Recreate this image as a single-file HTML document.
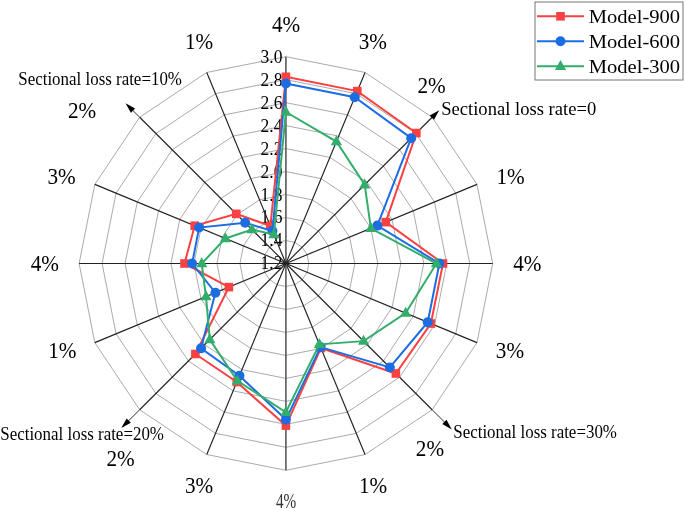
<!DOCTYPE html>
<html><head><meta charset="utf-8"><style>
html,body{margin:0;padding:0;background:#fff;}
#c{position:relative;width:685px;height:510px;overflow:hidden;background:#fff;will-change:transform;}
svg text{font-family:"Liberation Serif",serif;}
</style></head><body><div id="c">
<svg width="685" height="510" viewBox="0 0 685 510" style="position:absolute;left:0;top:0">
<polygon points="285.90,240.52 294.69,242.27 302.15,247.25 307.13,254.71 308.88,263.50 307.13,272.29 302.15,279.75 294.69,284.73 285.90,286.48 277.11,284.73 269.65,279.75 264.67,272.29 262.92,263.50 264.67,254.71 269.65,247.25 277.11,242.27" fill="none" stroke="#a0a0a0" stroke-width="0.9"/>
<polygon points="285.90,217.54 303.49,221.04 318.40,231.00 328.36,245.91 331.86,263.50 328.36,281.09 318.40,296.00 303.49,305.96 285.90,309.46 268.31,305.96 253.40,296.00 243.44,281.09 239.94,263.50 243.44,245.91 253.40,231.00 268.31,221.04" fill="none" stroke="#a0a0a0" stroke-width="0.9"/>
<polygon points="285.90,194.57 312.28,199.81 334.64,214.76 349.59,237.12 354.83,263.50 349.59,289.88 334.64,312.24 312.28,327.19 285.90,332.43 259.52,327.19 237.16,312.24 222.21,289.88 216.97,263.50 222.21,237.12 237.16,214.76 259.52,199.81" fill="none" stroke="#a0a0a0" stroke-width="0.9"/>
<polygon points="285.90,171.59 321.07,178.59 350.89,198.51 370.81,228.33 377.81,263.50 370.81,298.67 350.89,328.49 321.07,348.41 285.90,355.41 250.73,348.41 220.91,328.49 200.99,298.67 193.99,263.50 200.99,228.33 220.91,198.51 250.73,178.59" fill="none" stroke="#a0a0a0" stroke-width="0.9"/>
<polygon points="285.90,148.61 329.87,157.36 367.14,182.26 392.04,219.53 400.79,263.50 392.04,307.47 367.14,344.74 329.87,369.64 285.90,378.39 241.93,369.64 204.66,344.74 179.76,307.47 171.01,263.50 179.76,219.53 204.66,182.26 241.93,157.36" fill="none" stroke="#a0a0a0" stroke-width="0.9"/>
<polygon points="285.90,125.63 338.66,136.13 383.39,166.01 413.27,210.74 423.77,263.50 413.27,316.26 383.39,360.99 338.66,390.87 285.90,401.37 233.14,390.87 188.41,360.99 158.53,316.26 148.03,263.50 158.53,210.74 188.41,166.01 233.14,136.13" fill="none" stroke="#a0a0a0" stroke-width="0.9"/>
<polygon points="285.90,102.66 347.45,114.90 399.63,149.77 434.50,201.95 446.74,263.50 434.50,325.05 399.63,377.23 347.45,412.10 285.90,424.34 224.35,412.10 172.17,377.23 137.30,325.05 125.06,263.50 137.30,201.95 172.17,149.77 224.35,114.90" fill="none" stroke="#a0a0a0" stroke-width="0.9"/>
<polygon points="285.90,79.68 356.25,93.67 415.88,133.52 455.73,193.15 469.72,263.50 455.73,333.85 415.88,393.48 356.25,433.33 285.90,447.32 215.55,433.33 155.92,393.48 116.07,333.85 102.08,263.50 116.07,193.15 155.92,133.52 215.55,93.67" fill="none" stroke="#a0a0a0" stroke-width="0.9"/>
<polygon points="285.90,56.70 365.04,72.44 432.13,117.27 476.96,184.36 492.70,263.50 476.96,342.64 432.13,409.73 365.04,454.56 285.90,470.30 206.76,454.56 139.67,409.73 94.84,342.64 79.10,263.50 94.84,184.36 139.67,117.27 206.76,72.44" fill="none" stroke="#a0a0a0" stroke-width="0.9"/>
<text x="0" y="0" transform="translate(282.40,269.45) scale(1.000,1.030)" font-size="17.5" text-anchor="end" fill="#000">1.2</text>
<text x="0" y="0" transform="translate(282.40,246.47) scale(1.000,1.030)" font-size="17.5" text-anchor="end" fill="#000">1.4</text>
<text x="0" y="0" transform="translate(282.40,223.49) scale(1.000,1.030)" font-size="17.5" text-anchor="end" fill="#000">1.6</text>
<text x="0" y="0" transform="translate(282.40,200.52) scale(1.000,1.030)" font-size="17.5" text-anchor="end" fill="#000">1.8</text>
<text x="0" y="0" transform="translate(282.40,177.54) scale(1.000,1.030)" font-size="17.5" text-anchor="end" fill="#000">2.0</text>
<text x="0" y="0" transform="translate(282.40,154.56) scale(1.000,1.030)" font-size="17.5" text-anchor="end" fill="#000">2.2</text>
<text x="0" y="0" transform="translate(282.40,131.58) scale(1.000,1.030)" font-size="17.5" text-anchor="end" fill="#000">2.4</text>
<text x="0" y="0" transform="translate(282.40,108.61) scale(1.000,1.030)" font-size="17.5" text-anchor="end" fill="#000">2.6</text>
<text x="0" y="0" transform="translate(282.40,85.63) scale(1.000,1.030)" font-size="17.5" text-anchor="end" fill="#000">2.8</text>
<text x="0" y="0" transform="translate(282.40,62.65) scale(1.000,1.030)" font-size="17.5" text-anchor="end" fill="#000">3.0</text>
<line x1="285.90" y1="263.50" x2="285.90" y2="56.70" stroke="#5a5a5a" stroke-width="1.6"/>
<line x1="285.90" y1="263.50" x2="365.04" y2="72.44" stroke="#222" stroke-width="1.15"/>
<line x1="285.90" y1="263.50" x2="432.13" y2="117.27" stroke="#222" stroke-width="1.15"/>
<line x1="432.13" y1="117.27" x2="432.53" y2="116.87" stroke="#222" stroke-width="0.95"/>
<polygon points="439.25,110.15 433.95,119.70 429.70,115.45" fill="#000"/>
<line x1="285.90" y1="263.50" x2="476.96" y2="184.36" stroke="#222" stroke-width="1.15"/>
<line x1="285.90" y1="263.50" x2="492.70" y2="263.50" stroke="#222" stroke-width="1.15"/>
<line x1="285.90" y1="263.50" x2="476.96" y2="342.64" stroke="#222" stroke-width="1.15"/>
<line x1="285.90" y1="263.50" x2="432.13" y2="409.73" stroke="#222" stroke-width="1.15"/>
<line x1="432.13" y1="409.73" x2="445.08" y2="422.68" stroke="#222" stroke-width="0.95"/>
<polygon points="451.80,429.40 442.25,424.10 446.50,419.85" fill="#000"/>
<line x1="285.90" y1="263.50" x2="365.04" y2="454.56" stroke="#222" stroke-width="1.15"/>
<line x1="285.90" y1="263.50" x2="285.90" y2="470.30" stroke="#5a5a5a" stroke-width="1.6"/>
<line x1="285.90" y1="263.50" x2="206.76" y2="454.56" stroke="#222" stroke-width="1.15"/>
<line x1="285.90" y1="263.50" x2="139.67" y2="409.73" stroke="#222" stroke-width="1.15"/>
<line x1="139.67" y1="409.73" x2="128.02" y2="421.38" stroke="#222" stroke-width="0.95"/>
<polygon points="121.30,428.10 126.60,418.55 130.85,422.80" fill="#000"/>
<line x1="285.90" y1="263.50" x2="94.84" y2="342.64" stroke="#222" stroke-width="1.15"/>
<line x1="285.90" y1="263.50" x2="79.10" y2="263.50" stroke="#222" stroke-width="1.15"/>
<line x1="285.90" y1="263.50" x2="94.84" y2="184.36" stroke="#222" stroke-width="1.15"/>
<line x1="285.90" y1="263.50" x2="139.67" y2="117.27" stroke="#222" stroke-width="1.15"/>
<line x1="139.67" y1="117.27" x2="132.27" y2="109.87" stroke="#222" stroke-width="0.95"/>
<polygon points="125.55,103.15 135.10,108.45 130.85,112.70" fill="#000"/>
<line x1="285.90" y1="263.50" x2="206.76" y2="72.44" stroke="#222" stroke-width="1.15"/>
<polygon points="285.90,76.80 357.31,91.10 416.36,133.04 385.77,222.13 443.00,263.50 430.86,323.54 395.86,373.46 320.92,348.03 285.90,425.60 236.80,382.03 195.39,354.01 228.90,287.11 184.50,263.50 194.71,225.73 236.26,213.86 270.36,225.99" fill="none" stroke="#f84141" stroke-width="2" stroke-linejoin="miter"/>
<rect x="281.60" y="72.50" width="8.6" height="8.6" fill="#f84141"/>
<rect x="353.01" y="86.80" width="8.6" height="8.6" fill="#f84141"/>
<rect x="412.06" y="128.74" width="8.6" height="8.6" fill="#f84141"/>
<rect x="381.47" y="217.83" width="8.6" height="8.6" fill="#f84141"/>
<rect x="438.70" y="259.20" width="8.6" height="8.6" fill="#f84141"/>
<rect x="426.56" y="319.24" width="8.6" height="8.6" fill="#f84141"/>
<rect x="391.56" y="369.16" width="8.6" height="8.6" fill="#f84141"/>
<rect x="316.62" y="343.73" width="8.6" height="8.6" fill="#f84141"/>
<rect x="281.60" y="421.30" width="8.6" height="8.6" fill="#f84141"/>
<rect x="232.50" y="377.73" width="8.6" height="8.6" fill="#f84141"/>
<rect x="191.09" y="349.71" width="8.6" height="8.6" fill="#f84141"/>
<rect x="224.60" y="282.81" width="8.6" height="8.6" fill="#f84141"/>
<rect x="180.20" y="259.20" width="8.6" height="8.6" fill="#f84141"/>
<rect x="190.41" y="221.43" width="8.6" height="8.6" fill="#f84141"/>
<rect x="231.96" y="209.56" width="8.6" height="8.6" fill="#f84141"/>
<rect x="266.06" y="221.69" width="8.6" height="8.6" fill="#f84141"/>
<polygon points="285.90,83.50 354.74,97.29 411.20,138.20 377.36,225.61 439.40,263.50 427.72,322.24 389.84,367.44 320.53,347.11 285.90,419.60 239.44,375.66 201.05,348.35 215.41,292.70 192.10,263.50 199.15,227.57 245.17,222.77 272.43,230.98" fill="none" stroke="#1d6de2" stroke-width="2" stroke-linejoin="miter"/>
<circle cx="285.90" cy="83.50" r="5" fill="#1d6de2"/>
<circle cx="354.74" cy="97.29" r="5" fill="#1d6de2"/>
<circle cx="411.20" cy="138.20" r="5" fill="#1d6de2"/>
<circle cx="377.36" cy="225.61" r="5" fill="#1d6de2"/>
<circle cx="439.40" cy="263.50" r="5" fill="#1d6de2"/>
<circle cx="427.72" cy="322.24" r="5" fill="#1d6de2"/>
<circle cx="389.84" cy="367.44" r="5" fill="#1d6de2"/>
<circle cx="320.53" cy="347.11" r="5" fill="#1d6de2"/>
<circle cx="285.90" cy="419.60" r="5" fill="#1d6de2"/>
<circle cx="239.44" cy="375.66" r="5" fill="#1d6de2"/>
<circle cx="201.05" cy="348.35" r="5" fill="#1d6de2"/>
<circle cx="215.41" cy="292.70" r="5" fill="#1d6de2"/>
<circle cx="192.10" cy="263.50" r="5" fill="#1d6de2"/>
<circle cx="199.15" cy="227.57" r="5" fill="#1d6de2"/>
<circle cx="245.17" cy="222.77" r="5" fill="#1d6de2"/>
<circle cx="272.43" cy="230.98" r="5" fill="#1d6de2"/>
<polygon points="285.90,112.00 336.41,141.55 364.67,184.73 370.90,228.29 436.50,263.50 405.63,313.10 363.54,341.14 319.38,344.34 285.90,412.30 237.34,380.74 209.82,339.58 205.98,296.60 201.70,263.50 225.39,238.43 251.96,229.56 273.88,234.49" fill="none" stroke="#33ad6b" stroke-width="2" stroke-linejoin="miter"/>
<polygon points="285.90,105.70 291.50,115.70 280.30,115.70" fill="#33ad6b"/>
<polygon points="336.41,135.25 342.01,145.25 330.81,145.25" fill="#33ad6b"/>
<polygon points="364.67,178.43 370.27,188.43 359.07,188.43" fill="#33ad6b"/>
<polygon points="370.90,221.99 376.50,231.99 365.30,231.99" fill="#33ad6b"/>
<polygon points="436.50,257.20 442.10,267.20 430.90,267.20" fill="#33ad6b"/>
<polygon points="405.63,306.80 411.23,316.80 400.03,316.80" fill="#33ad6b"/>
<polygon points="363.54,334.84 369.14,344.84 357.94,344.84" fill="#33ad6b"/>
<polygon points="319.38,338.04 324.98,348.04 313.78,348.04" fill="#33ad6b"/>
<polygon points="285.90,406.00 291.50,416.00 280.30,416.00" fill="#33ad6b"/>
<polygon points="237.34,374.44 242.94,384.44 231.74,384.44" fill="#33ad6b"/>
<polygon points="209.82,333.28 215.42,343.28 204.22,343.28" fill="#33ad6b"/>
<polygon points="205.98,290.30 211.58,300.30 200.38,300.30" fill="#33ad6b"/>
<polygon points="201.70,257.20 207.30,267.20 196.10,267.20" fill="#33ad6b"/>
<polygon points="225.39,232.13 230.99,242.13 219.79,242.13" fill="#33ad6b"/>
<polygon points="251.96,223.26 257.56,233.26 246.36,233.26" fill="#33ad6b"/>
<polygon points="273.88,228.19 279.48,238.19 268.28,238.19" fill="#33ad6b"/>
<rect x="535" y="2" width="148" height="78" fill="#fff" stroke="#777" stroke-width="1"/>
<line x1="537" y1="16.3" x2="584" y2="16.3" stroke="#f84141" stroke-width="2"/>
<rect x="556.20" y="12.00" width="8.6" height="8.6" fill="#f84141"/>
<text x="0" y="0" transform="translate(588.78,22.90) scale(1.050,1.000)" font-size="19.6" text-anchor="start" fill="#000">Model-900</text>
<line x1="537" y1="41.2" x2="584" y2="41.2" stroke="#1d6de2" stroke-width="2"/>
<circle cx="560.50" cy="41.20" r="5" fill="#1d6de2"/>
<text x="0" y="0" transform="translate(588.78,47.80) scale(1.050,1.000)" font-size="19.6" text-anchor="start" fill="#000">Model-600</text>
<line x1="537" y1="66.2" x2="584" y2="66.2" stroke="#33ad6b" stroke-width="2"/>
<polygon points="560.50,59.90 566.10,69.90 554.90,69.90" fill="#33ad6b"/>
<text x="0" y="0" transform="translate(588.78,72.80) scale(1.050,1.000)" font-size="19.6" text-anchor="start" fill="#000">Model-300</text>
<text x="0" y="0" transform="translate(286.09,31.80) scale(1.000,1.040)" font-size="21.2" text-anchor="middle" fill="#000">4%</text>
<text x="0" y="0" transform="translate(372.87,49.40) scale(1.000,1.040)" font-size="21.2" text-anchor="middle" fill="#000">3%</text>
<text x="0" y="0" transform="translate(431.62,92.80) scale(1.000,1.040)" font-size="21.2" text-anchor="middle" fill="#000">2%</text>
<text x="0" y="0" transform="translate(510.50,184.10) scale(1.000,1.040)" font-size="21.2" text-anchor="middle" fill="#000">1%</text>
<text x="0" y="0" transform="translate(527.39,270.70) scale(1.000,1.040)" font-size="21.2" text-anchor="middle" fill="#000">4%</text>
<text x="0" y="0" transform="translate(509.92,357.80) scale(1.000,1.040)" font-size="21.2" text-anchor="middle" fill="#000">3%</text>
<text x="0" y="0" transform="translate(429.97,455.70) scale(1.000,1.040)" font-size="21.2" text-anchor="middle" fill="#000">2%</text>
<text x="0" y="0" transform="translate(373.00,492.90) scale(1.000,1.040)" font-size="21.2" text-anchor="middle" fill="#000">1%</text>
<text x="0" y="0" transform="translate(199.07,492.90) scale(1.000,1.040)" font-size="21.2" text-anchor="middle" fill="#000">3%</text>
<text x="0" y="0" transform="translate(120.62,466.10) scale(1.000,1.040)" font-size="21.2" text-anchor="middle" fill="#000">2%</text>
<text x="0" y="0" transform="translate(62.40,357.80) scale(1.000,1.040)" font-size="21.2" text-anchor="middle" fill="#000">1%</text>
<text x="0" y="0" transform="translate(44.89,271.10) scale(1.000,1.040)" font-size="21.2" text-anchor="middle" fill="#000">4%</text>
<text x="0" y="0" transform="translate(61.62,184.00) scale(1.000,1.040)" font-size="21.2" text-anchor="middle" fill="#000">3%</text>
<text x="0" y="0" transform="translate(82.12,118.30) scale(1.000,1.040)" font-size="21.2" text-anchor="middle" fill="#000">2%</text>
<text x="0" y="0" transform="translate(199.15,49.40) scale(1.000,1.040)" font-size="21.2" text-anchor="middle" fill="#000">1%</text>
<text x="0" y="0" transform="translate(286.05,507.50) scale(0.720,0.970)" font-size="21.2" text-anchor="middle" fill="#333">4%</text>
<text x="0" y="0" transform="translate(441.19,114.50) scale(0.990,1.000)" font-size="18.8" text-anchor="start" fill="#000">Sectional loss rate=0</text>
<text x="0" y="0" transform="translate(18.30,84.50) scale(0.962,1.070)" font-size="17.6" text-anchor="start" fill="#000">Sectional loss rate=10%</text>
<text x="0" y="0" transform="translate(0.30,439.60) scale(0.962,1.070)" font-size="17.6" text-anchor="start" fill="#000">Sectional loss rate=20%</text>
<text x="0" y="0" transform="translate(453.30,437.50) scale(0.962,1.070)" font-size="17.6" text-anchor="start" fill="#000">Sectional loss rate=30%</text>
</svg>
</div></body></html>
